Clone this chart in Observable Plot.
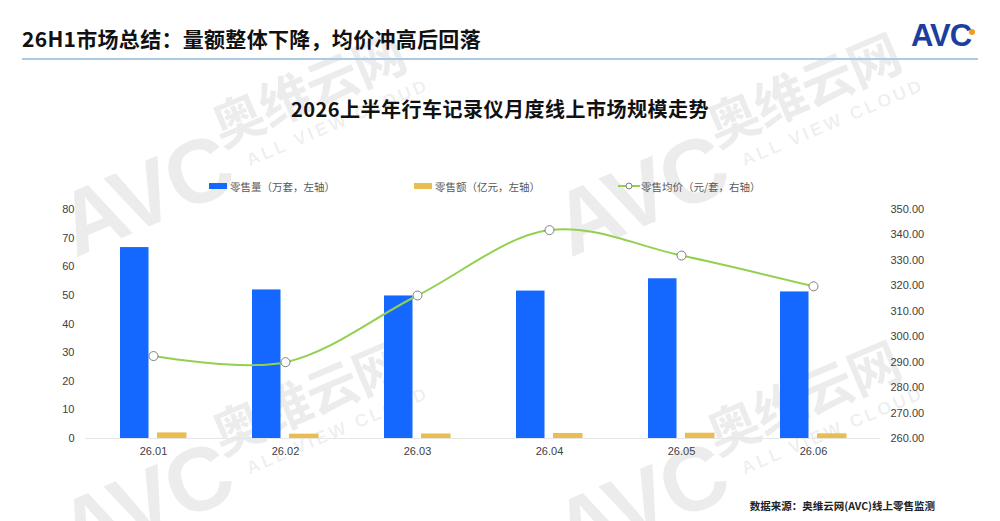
<!DOCTYPE html>
<html>
<head>
<meta charset="utf-8">
<script src="https://cdn.jsdelivr.net/npm/d3@7"></script>
<script src="https://cdn.jsdelivr.net/npm/@observablehq/plot@0.6"></script>
<style>
  html, body { margin: 0; padding: 0; background: #fff; }
  #page { position: relative; width: 1000px; height: 521px; overflow: hidden; background: #fff;
          font-family: "Liberation Sans", "Noto Sans CJK SC", sans-serif; }
  .wm { position: absolute; width: 400px; height: 110px; transform-origin: 50% 50%; transform: rotate(-23deg);
        color: rgba(0,0,0,0.075); white-space: nowrap; font-weight: bold; z-index: 0; }
  .wm .avc { position: absolute; left: 8px; top: 20px; font-size: 90px; line-height: 90px; letter-spacing: -2px; font-family: "Liberation Sans", sans-serif; }
  .wm .cn { position: absolute; left: 186px; top: 0px; font-size: 52px; line-height: 60px; font-family: "Noto Sans CJK SC", sans-serif; letter-spacing: -1px; }
  .wm .en { position: absolute; left: 204px; top: 64px; font-size: 18px; line-height: 20px; letter-spacing: 3px; font-family: "Liberation Sans", sans-serif; }
  #title { position: absolute; left: 22px; top: 23px; font-size: 21px; font-weight: bold; color: #111;
           font-family: "Noto Sans CJK SC", sans-serif; z-index: 2; letter-spacing: 0.3px; }
  #rule { position: absolute; left: 22px; top: 58px; width: 956px; height: 2px; background: #a9cbe6; z-index: 2; }
  #logo { position: absolute; left: 911px; top: 18px; font-size: 31px; font-weight: bold; color: #1c3f9f;
          font-family: "Liberation Sans", sans-serif; letter-spacing: -1px; z-index: 2; }
  #logo .dot { position: absolute; left: 58px; top: 11px; width: 6px; height: 6px; border-radius: 50%; background: #f39a1e; }
  #ctitle { position: absolute; left: 0; width: 1000px; top: 94px; text-align: center; font-size: 20px; font-weight: bold;
            color: #111; font-family: "Noto Sans CJK SC", sans-serif; z-index: 2; letter-spacing: 0.5px; }
  #legend { position: absolute; top: 178px; left: 0; width: 1000px; height: 16px; font-size: 10.5px; color: #595959;
            font-family: "Noto Sans CJK SC", sans-serif; z-index: 2; }
  .li { position: absolute; top: 0; display: flex; align-items: center; height: 16px; }
  .sw { display: inline-block; width: 18px; height: 6px; margin-right: 3px; }
  #chart { position: absolute; left: 0; top: 200px; z-index: 1; }
  #footer { position: absolute; right: 65px; top: 498px; font-size: 10.5px; font-weight: bold; color: #222;
            font-family: "Noto Sans CJK SC", sans-serif; z-index: 2; }
</style>
</head>
<body>
<div id="page">
  <div class="wm" style="left:36px; top:90px;"><span class="avc">AVC</span><span class="cn">奥维云网</span><span class="en">ALL VIEW CLOUD</span></div>
  <div class="wm" style="left:531px; top:90px;"><span class="avc">AVC</span><span class="cn">奥维云网</span><span class="en">ALL VIEW CLOUD</span></div>
  <div class="wm" style="left:36px; top:398px;"><span class="avc">AVC</span><span class="cn">奥维云网</span><span class="en">ALL VIEW CLOUD</span></div>
  <div class="wm" style="left:531px; top:398px;"><span class="avc">AVC</span><span class="cn">奥维云网</span><span class="en">ALL VIEW CLOUD</span></div>
  <div id="title">26H1市场总结：量额整体下降，均价冲高后回落</div>
  <div id="rule"></div>
  <div id="logo">AVC<span class="dot"></span></div>
  <div id="ctitle">2026上半年行车记录仪月度线上市场规模走势</div>
  <div id="legend">
    <div class="li" style="left:209px;"><span class="sw" style="background:#1468ff"></span>零售量（万套，左轴）</div>
    <div class="li" style="left:414px;"><span class="sw" style="background:#e9bd4f"></span>零售额（亿元，左轴）</div>
    <div class="li" style="left:618px;"><svg width="22" height="10" style="margin-right:1px"><line x1="0" y1="5" x2="22" y2="5" stroke="#92d050" stroke-width="2"/><circle cx="11" cy="5" r="3" fill="#fff" stroke="#808080"/></svg>零售均价（元/套，右轴）</div>
  </div>
  <div id="chart"></div>
  <div id="footer">数据来源：奥维云网(AVC)线上零售监测</div>
</div>
<script>
const months = ["26.01", "26.02", "26.03", "26.04", "26.05", "26.06"];
const volume = [66.7, 51.9, 49.8, 51.5, 55.8, 51.2];      // 零售量（万套）
const revenue = [1.95, 1.51, 1.58, 1.76, 1.85, 1.64];     // 零售额（亿元）
const price = [292.4, 290.0, 316.2, 341.9, 331.9, 319.8]; // 零售均价（元/套）
const leftTicks = [0, 10, 20, 30, 40, 50, 60, 70, 80];
const rightTicks = [260, 270, 280, 290, 300, 310, 320, 330, 340, 350];

const data = months.map((m, i) => ({month: m, volume: volume[i], revenue: revenue[i], price: price[i]}));
const p2y = d3.scaleLinear([260, 350], [0, 80]);

const chart = Plot.plot({
  width: 1000,
  height: 270,
  marginTop: 9,
  marginBottom: 32,
  marginLeft: 85,
  marginRight: 120,
  style: {fontFamily: "Liberation Sans, Arial, sans-serif", fontSize: "11px", color: "#404040", background: "transparent"},
  x: {type: "band", domain: months, padding: 0, label: null},
  y: {domain: [0, 80], label: null},
  marks: [
    Plot.ruleY([0], {stroke: "#e6e6e6"}),
    Plot.barY(data, {x: "month", y: "volume", fill: "#1468ff", insetLeft: 33, insetRight: 70.5}),
    Plot.barY(data, {x: "month", y: "revenue", fill: "#e9bd4f", insetLeft: 70, insetRight: 32.5}),
    Plot.line(data, {x: "month", y: d => p2y(d.price), stroke: "#92d050", strokeWidth: 2, curve: "catmull-rom"}),
    Plot.dot(data, {x: "month", y: d => p2y(d.price), r: 4.5, fill: "#fff", stroke: "#808080", strokeWidth: 1}),
    Plot.axisY({anchor: "left", ticks: leftTicks, tickSize: 0, tickPadding: 11, label: null, tickFormat: d => d}),
    Plot.axisY({anchor: "right", ticks: rightTicks.map(p2y), tickSize: 0, tickPadding: 10, label: null,
                tickFormat: d => Math.round(p2y.invert(d)).toFixed(2)}),
    Plot.axisX({tickSize: 0, tickPadding: 9, label: null})
  ]
});
document.getElementById("chart").appendChild(chart);
</script>
</body>
</html>
